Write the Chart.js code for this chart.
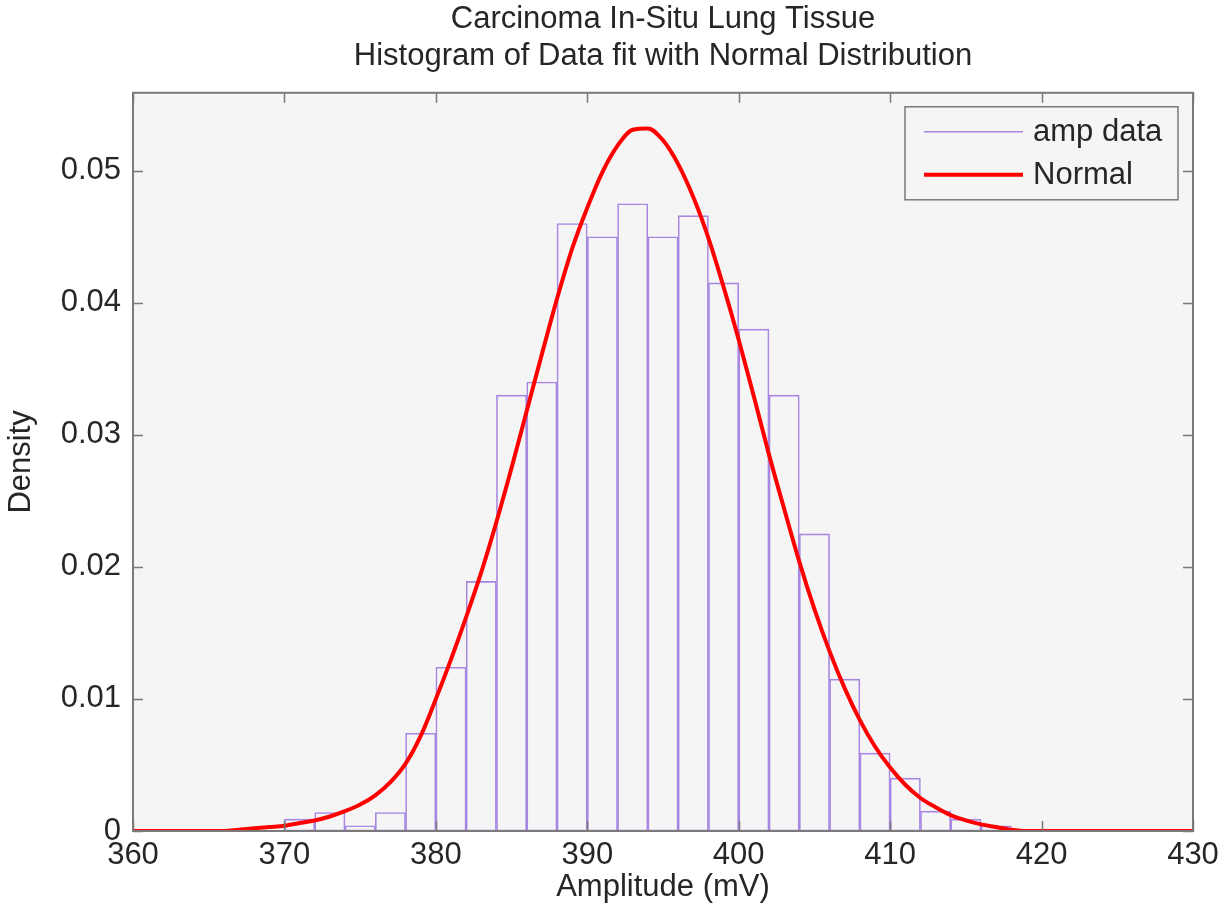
<!DOCTYPE html>
<html>
<head>
<meta charset="utf-8">
<script src="https://cdn.jsdelivr.net/npm/chart.js@4.4.0/dist/chart.umd.min.js"></script>
<style>
  html, body { margin: 0; padding: 0; background: #fff; }
  #wrap { width: 1230px; height: 912px; }
</style>
</head>
<body>
<div id="wrap"><canvas id="histChart" width="1230" height="912"></canvas></div>
<script>
// histogram bins (2 mV wide, centre of each bin) and density
const binCenters = [371, 373, 375, 377, 379, 381, 383, 385, 387, 389,
                    391, 393, 395, 397, 399, 401, 403, 405, 407, 409,
                    411, 413, 415, 417];
const binDensity = [0.0009, 0.0014, 0.0004, 0.0014, 0.0074, 0.0124, 0.0189, 0.0330, 0.0340, 0.0460,
                    0.0450, 0.0475, 0.0450, 0.0466, 0.0415, 0.0380, 0.0330, 0.0225, 0.0115, 0.0059,
                    0.0040, 0.0015, 0.0009, 0.0004];

// fitted normal curve
const fitX = [360, 366, 367, 368, 369, 370, 371, 372, 373, 374,
              375, 376, 377, 378, 379, 380, 381, 382, 383, 384,
              385, 386, 387, 388, 389, 390, 391, 392, 393, 394,
              395, 396, 397, 398, 399, 400, 401, 402, 403, 404,
              405, 406, 407, 408, 409, 410, 411, 412, 413, 414,
              415, 416, 417, 418, 419, 420, 430];
const fitDensity = [0, 0, 0.0001, 0.0002, 0.0003, 0.0004, 0.0006, 0.0008, 0.0011, 0.0015,
                    0.0020, 0.0027, 0.0037, 0.0051, 0.0072, 0.0100, 0.0130, 0.0162, 0.0196, 0.0234,
                    0.0275, 0.0318, 0.0361, 0.0403, 0.0441, 0.0472, 0.0499, 0.0519, 0.0531, 0.0532,
                    0.0523, 0.0505, 0.0480, 0.0449, 0.0412, 0.0372, 0.0329, 0.0285, 0.0244, 0.0204,
                    0.0168, 0.0136, 0.0108, 0.0084, 0.0064, 0.0048, 0.0035, 0.0025, 0.0018, 0.0012,
                    0.0008, 0.0005, 0.0003, 0.0001, 0, 0, 0];

const xTicks = [360, 370, 380, 390, 400, 410, 420, 430];
const yTicks = [0, 0.01, 0.02, 0.03, 0.04, 0.05];

const FONT = '"Liberation Sans", Arial, Helvetica, sans-serif';
const TEXT = '#262626';
const FS = 31;

function pairs(xs, ys) {
  let res = [];
  xs.forEach((x, i) => { res.push({x: x, y: ys[i]}); });
  return res;
}

// grey plot box, inward ticks and frame like a matlab axes
const axesBox = {
  id: 'axesBox',
  beforeDraw(chart) {
    const a = chart.chartArea, ctx = chart.ctx;
    ctx.save();
    ctx.fillStyle = '#f5f5f5';
    ctx.fillRect(a.left, a.top, a.right - a.left, a.bottom - a.top);
    ctx.restore();
  },
  afterDatasetsDraw(chart) {
    const a = chart.chartArea, ctx = chart.ctx;
    const xs = chart.scales.x, ys = chart.scales.y;
    ctx.save();
    ctx.strokeStyle = '#7a7a7a';
    ctx.lineWidth = 1.5;
    ctx.beginPath();
    xTicks.forEach((v) => {
      const px = Math.round(xs.getPixelForValue(v)) + 0.5;
      ctx.moveTo(px, a.bottom); ctx.lineTo(px, a.bottom - 10);
      ctx.moveTo(px, a.top); ctx.lineTo(px, a.top + 10);
    });
    yTicks.forEach((v) => {
      const py = Math.round(ys.getPixelForValue(v)) + 0.5;
      ctx.moveTo(a.left, py); ctx.lineTo(a.left + 10, py);
      ctx.moveTo(a.right, py); ctx.lineTo(a.right - 10, py);
    });
    ctx.stroke();
    ctx.lineWidth = 2;
    ctx.strokeRect(a.left, a.top, a.right - a.left, a.bottom - a.top);
    ctx.restore();
  },
  afterDraw(chart) {
    // legend box in the top right corner
    const a = chart.chartArea, ctx = chart.ctx;
    const w = 273, h = 93;
    const bx = a.right - 15 - w, by = a.top + 14;
    ctx.save();
    ctx.fillStyle = '#f5f5f5';
    ctx.fillRect(bx, by, w, h);
    ctx.strokeStyle = '#7a7a7a';
    ctx.lineWidth = 1.5;
    ctx.strokeRect(bx, by, w, h);
    ctx.font = FS + 'px ' + FONT;
    ctx.textBaseline = 'middle';
    chart.data.datasets.forEach((ds, i) => {
      const y = by + 25 + i * 43;
      ctx.strokeStyle = ds.borderColor;
      ctx.lineWidth = ds.type === 'line' ? 4 : 1.5;
      ctx.beginPath();
      ctx.moveTo(bx + 19, y); ctx.lineTo(bx + 118, y);
      ctx.stroke();
      ctx.fillStyle = TEXT;
      ctx.fillText(ds.label, bx + 128, y + 1);
    });
    ctx.restore();
  }
};

new Chart('histChart', {
  type: 'bar',
  data: {
    datasets: [
      {
        type: 'bar',
        label: 'amp data',
        data: pairs(binCenters, binDensity),
        backgroundColor: 'rgba(0,0,0,0)',
        borderColor: '#a887e2',
        borderWidth: 1,
        borderSkipped: false,
        barPercentage: 1,
        categoryPercentage: 1,
        order: 1,
      },
      {
        type: 'line',
        label: 'Normal',
        data: pairs(fitX, fitDensity),
        borderColor: '#ff0000',
        borderWidth: 4,
        pointRadius: 0,
        cubicInterpolationMode: 'monotone',
        fill: false,
        order: 0,
      },
    ],
  },
  options: {
    responsive: false,
    animation: false,
    layout: { padding: { left: 0, right: 37, top: 0, bottom: 0 } },
    plugins: {
      legend: { display: false },
      tooltip: { enabled: false },
      title: {
        display: true,
        fullSize: false,
        text: ['Carcinoma In-Situ Lung Tissue', 'Histogram of Data fit with Normal Distribution'],
        color: TEXT,
        font: { family: FONT, size: FS, weight: 'normal', lineHeight: 1.19 },
        padding: { top: 1, bottom: 18 },
      },
    },
    scales: {
      x: {
        type: 'linear',
        offset: false,
        min: 360,
        max: 430,
        grid: { display: false, drawTicks: false, offset: false },
        border: { display: false },
        ticks: {
          stepSize: 10,
          padding: 9,
          color: TEXT,
          font: { family: FONT, size: FS, lineHeight: 1 },
          maxRotation: 0,
        },
        title: {
          display: true,
          text: 'Amplitude (mV)',
          color: TEXT,
          font: { family: FONT, size: FS, lineHeight: 1 },
          padding: { top: 0, bottom: 9 },
        },
        afterFit(scale) { scale.height = 81; },
      },
      y: {
        min: 0,
        max: 0.0559,
        grid: { display: false, drawTicks: false },
        border: { display: false },
        ticks: {
          stepSize: 0.01,
          includeBounds: false,
          padding: 12,
          color: TEXT,
          font: { family: FONT, size: FS, lineHeight: 1 },
          callback: (v) => String(Math.round(v * 100) / 100),
        },
        title: {
          display: true,
          text: 'Density',
          color: TEXT,
          font: { family: FONT, size: FS, lineHeight: 1 },
          padding: { top: 6, bottom: 0 },
        },
        afterFit(scale) { scale.width = 133; },
      },
    },
  },
  plugins: [axesBox],
});
</script>
</body>
</html>
